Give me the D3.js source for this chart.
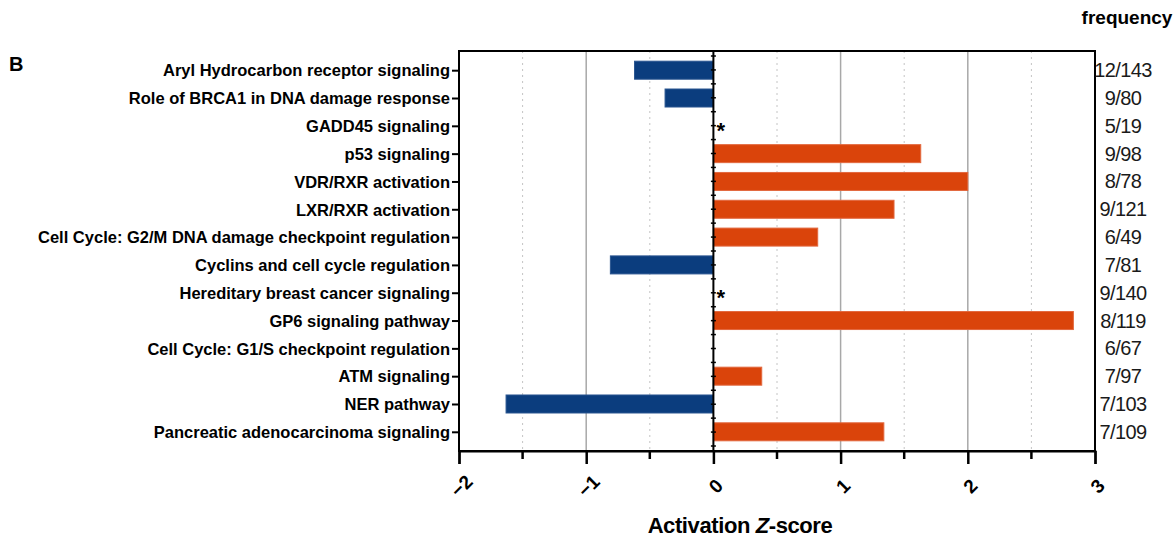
<!DOCTYPE html>
<html lang="en">
<head>
<meta charset="utf-8" />
<title>Activation Z-score</title>
<style>
  body { margin: 0; padding: 0; background: #fff; }
  svg { display: block; }
  .lbl { font-family: "Liberation Sans Narrow", "Arial Narrow", Arial, sans-serif; font-weight: bold; font-size: 16.5px; fill: #000; }
  .freq { font-family: "Liberation Sans Narrow", "Arial Narrow", Arial, sans-serif; font-size: 20px; fill: #1a1a1a; letter-spacing: -0.6px; }
</style>
</head>
<body>
<div id="chart"></div>
<script src="https://d3js.org/d3.v7.min.js"></script>
<script>
const pathways = [
  'Aryl Hydrocarbon receptor signaling',
  'Role of BRCA1 in DNA damage response',
  'GADD45 signaling',
  'p53 signaling',
  'VDR/RXR activation',
  'LXR/RXR activation',
  'Cell Cycle: G2/M DNA damage checkpoint regulation',
  'Cyclins and cell cycle regulation',
  'Hereditary breast cancer signaling',
  'GP6 signaling pathway',
  'Cell Cycle: G1/S checkpoint regulation',
  'ATM signaling',
  'NER pathway',
  'Pancreatic adenocarcinoma signaling'
];
const zscores = [-0.62, -0.38, 0, 1.63, 2.0, 1.42, 0.82, -0.81, 0, 2.83, 0, 0.38, -1.63, 1.34];
const starred = [false, false, true, false, false, false, false, false, true, false, false, false, false, false];
const frequency = ['12/143', '9/80', '5/19', '9/98', '8/78', '9/121', '6/49', '7/81', '9/140', '8/119', '6/67', '7/97', '7/103', '7/109'];
const xTicks = [-2, -1, 0, 1, 2, 3];
const xMinor = [-1.5, -0.5, 0.5, 1.5, 2.5];

const W = 1176, H = 545;
const pL = 459, pR = 1095, pT = 51, pB = 451;

const svg = d3.select('#chart').append('svg').attr('width', W).attr('height', H);

const x = d3.scaleLinear().domain([-2, 3]).range([pL, pR]);
const y = d3.scalePoint().domain(pathways).range([pT, pB]).padding(0.69);
const barH = 18;

// grid
svg.append('g').selectAll('line').data([-1, 1, 2]).enter().append('line')
    .attr('x1', d => x(d)).attr('x2', d => x(d)).attr('y1', pT).attr('y2', pB)
    .attr('stroke', '#a8a8a8').attr('stroke-width', 1.5);
svg.append('g').selectAll('line').data(xMinor).enter().append('line')
    .attr('x1', d => x(d)).attr('x2', d => x(d)).attr('y1', pT).attr('y2', pB)
    .attr('stroke', '#c4c4c4').attr('stroke-width', 1).attr('stroke-dasharray', '2,4');

// bars
svg.append('g').selectAll('rect').data(pathways).enter().append('rect')
    .attr('x', (d, i) => x(Math.min(0, zscores[i])))
    .attr('y', d => y(d) - barH / 2)
    .attr('width', (d, i) => Math.abs(x(zscores[i]) - x(0)))
    .attr('height', barH)
    .attr('fill', (d, i) => zscores[i] < 0 ? '#0b3d7e' : '#da440b')
    .attr('stroke', (d, i) => zscores[i] < 0 ? '#2a5590' : '#e2683e')
    .attr('stroke-width', (d, i) => zscores[i] === 0 ? 0 : 1);

// asterisks
svg.append('g').selectAll('text').data(pathways.filter((d, i) => starred[i])).enter().append('text')
    .attr('x', x(0) + 3).attr('y', d => y(d) + 12)
    .attr('font-family', 'Arial, sans-serif').attr('font-weight', 'bold').attr('font-size', 22)
    .text('*');

// zero line with small ticks
svg.append('line').attr('x1', x(0)).attr('x2', x(0)).attr('y1', pT).attr('y2', pB)
    .attr('stroke', '#000').attr('stroke-width', 2);
const half = d3.range(0, 29).map(k => pT + 5 + k * (pB - pT - 10) / 28);
svg.append('g').selectAll('line').data(half).enter().append('line')
    .attr('x1', x(0) - 2.5).attr('x2', x(0) + 2.5).attr('y1', d => d).attr('y2', d => d)
    .attr('stroke', '#000').attr('stroke-width', 1.5);

// frame
svg.append('rect').attr('x', pL).attr('y', pT).attr('width', pR - pL).attr('height', pB - pT)
    .attr('fill', 'none').attr('stroke', '#000').attr('stroke-width', 2);

// y axis
const yAxis = svg.append('g').attr('transform', `translate(${pL},0)`)
    .call(d3.axisLeft(y).tickSize(7).tickPadding(2));
yAxis.select('.domain').remove();
yAxis.selectAll('line').attr('stroke-width', 2);
yAxis.selectAll('text').attr('class', 'lbl').attr('dy', '0.35em');

// x axis
const xAxis = svg.append('g').attr('transform', `translate(0,${pB})`)
    .call(d3.axisBottom(x).tickValues(xTicks).tickSize(13).tickFormat(d3.format('d')));
xAxis.select('.domain').attr('stroke-width', 2);
xAxis.selectAll('line').attr('stroke-width', 2.5);
xAxis.selectAll('text')
    .attr('font-family', 'Arial, sans-serif').attr('font-size', 19).attr('font-weight', 'bold')
    .attr('text-anchor', 'middle').attr('y', 0).attr('dy', '0.35em')
    .attr('transform', 'translate(2,35) rotate(-45)');
svg.append('g').selectAll('line').data(xMinor).enter().append('line')
    .attr('x1', d => x(d)).attr('x2', d => x(d)).attr('y1', pB).attr('y2', pB + 8)
    .attr('stroke', '#000').attr('stroke-width', 2.5);

// axis title
const title = svg.append('text').attr('x', 740).attr('y', 533).attr('text-anchor', 'middle')
    .attr('font-family', '"Liberation Sans Narrow", "Arial Narrow", Arial, sans-serif')
    .attr('font-weight', 'bold').attr('font-size', 22).attr('letter-spacing', -0.4);
title.append('tspan').text('Activation ');
title.append('tspan').attr('font-style', 'italic').text('Z');
title.append('tspan').text('-score');

// frequency column
svg.append('text').attr('x', 1127).attr('y', 24).attr('text-anchor', 'middle')
    .attr('font-family', '"Liberation Sans Narrow", "Arial Narrow", Arial, sans-serif')
    .attr('font-weight', 'bold').attr('font-size', 19).text('frequency');
svg.append('g').selectAll('text').data(pathways).enter().append('text')
    .attr('class', 'freq').attr('x', 1123).attr('y', d => y(d) + 7).attr('text-anchor', 'middle')
    .text((d, i) => frequency[i]);

// panel letter
svg.append('text').attr('x', 9).attr('y', 71)
    .attr('font-family', 'Arial, sans-serif').attr('font-weight', 'bold').attr('font-size', 20).text('B');
</script>
</body>
</html>
